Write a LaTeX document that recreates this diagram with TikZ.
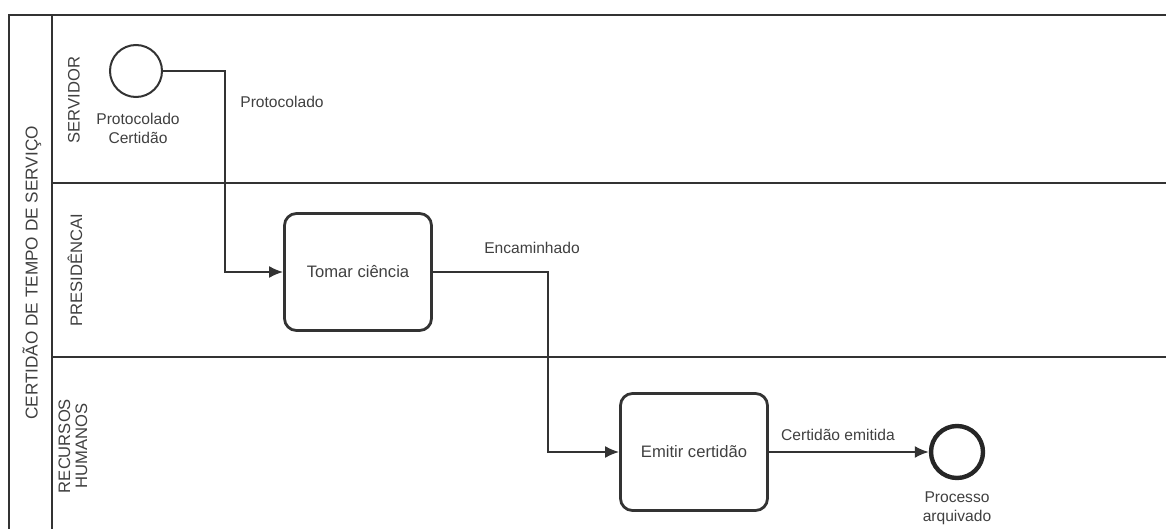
\documentclass[tikz,border=0pt]{standalone}
\usepackage{fontspec}
\setmainfont{Liberation Sans}
\usepackage{xcolor}
\usetikzlibrary{arrows.meta}

\begin{document}
\begin{tikzpicture}[x=0.5pt,y=-0.5pt,
	lane/.style={draw=black!80,line width=1.2pt},
	tarefa/.style={draw=black!80,line width=1.4pt,rounded corners=6pt,minimum width=73.5pt,minimum height=58.5pt,font=\fontsize{8.3}{10}\selectfont,text=black!75},
	inicio/.style={circle,draw=black!80,line width=1pt,minimum size=26pt,inner sep=0pt},
	fim/.style={circle,draw=black!85,line width=2.2pt,minimum size=26pt,inner sep=0pt},
	rotulo/.style={font=\fontsize{7.8}{9.5}\selectfont,text=black!75,align=center},
	fluxo/.style={draw=black!80,line width=1pt,-{Latex[length=7pt,width=6pt]}},
	raia/.style={rotate=90,font=\fontsize{8.3}{8.5}\selectfont,text=black!75,align=center}]
					\useasboundingbox (0,0) rectangle (1166,529);
					
					% pool e raias
					\draw[lane] (9,529) -- (9,15) -- (1166,15);
					\draw[lane] (52,15) -- (52,529);
					\draw[lane] (52,183) -- (1166,183);
					\draw[lane] (52,357) -- (1166,357);
					
					\node[raia,font=\fontsize{8.6}{10}\selectfont] (pool) at (32,273) {CERTIDÃO DE TEMPO DE SERVIÇO};
					\node[raia] (servidor) at (74,100) {SERVIDOR};
					\node[raia] (presidencia) at (75,270) {PRESIDÊNCAI};
					\node[raia] (rh) at (73,446) {RECURSOS\\HUMANOS};
					
					% eventos e tarefas
					\node[inicio] (inicio) at (136,71) {};
					\node[rotulo] (lblinicio) at (138,128) {Protocolado\\Certidão};
					\node[tarefa] (tomar) at (358,272) {Tomar ciência};
					\node[tarefa] (emitir) at (694,452) {Emitir certidão};
					\node[fim] (fim) at (957,452) {};
					\node[rotulo] (lblfim) at (957,508) {Processo\\arquivado};
					
					% fluxos
					\draw[fluxo] (inicio.east) -- ++(62,0) |- (tomar.west);
					\draw[fluxo] (tomar.east) -- ++(115,0) |- (emitir.west);
					\draw[fluxo] (emitir.east) -- (fim.west);
					\node[rotulo] (lblprot) at (282,102) {Protocolado};
					\node[rotulo] (lblenc) at (532,248) {Encaminhado};
					\node[rotulo] (lblemit) at (838,435) {Certidão emitida};
				\end{tikzpicture}
\end{document}
